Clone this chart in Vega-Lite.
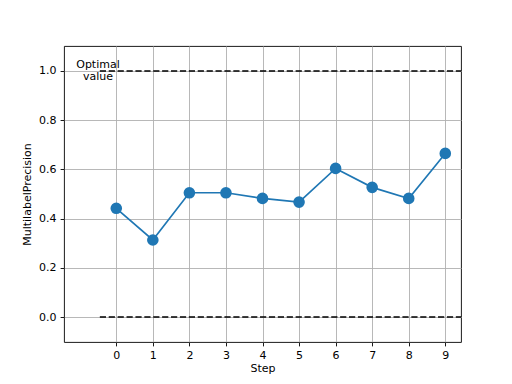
{
  "$schema": "https://vega.github.io/schema/vega-lite/v6.json",
  "width": 397,
  "height": 296,
  "autosize": {"type": "none"},
  "padding": {"left": 64, "top": 46, "right": 51, "bottom": 42},
  "background": "white",
  "config": {
    "font": "DejaVu Sans",
    "view": {"stroke": "black", "strokeWidth": 0.9},
    "axis": {
      "domain": false,
      "grid": true,
      "gridColor": "#b0b0b0",
      "gridWidth": 0.9,
      "gridOpacity": 1,
      "tickColor": "black",
      "tickSize": 3.9,
      "tickWidth": 0.9,
      "labelFont": "DejaVu Sans",
      "labelFontSize": 11,
      "labelColor": "black",
      "titleFont": "DejaVu Sans",
      "titleFontSize": 11,
      "titleFontWeight": "normal",
      "titleColor": "black",
      "labelPadding": 4
    }
  },
  "datasets": {
    "pts": [
      {"Step": 0, "MultilabelPrecision": 0.442},
      {"Step": 1, "MultilabelPrecision": 0.313},
      {"Step": 2, "MultilabelPrecision": 0.505},
      {"Step": 3, "MultilabelPrecision": 0.505},
      {"Step": 4, "MultilabelPrecision": 0.482},
      {"Step": 5, "MultilabelPrecision": 0.467},
      {"Step": 6, "MultilabelPrecision": 0.604},
      {"Step": 7, "MultilabelPrecision": 0.527},
      {"Step": 8, "MultilabelPrecision": 0.482},
      {"Step": 9, "MultilabelPrecision": 0.665}
    ],
    "refs": [
      {"x1": -0.45, "x2": 9.43, "y": 1.0},
      {"x1": -0.45, "x2": 9.43, "y": 0.0}
    ],
    "label": [
      {"x": -0.5, "y": 1.0, "text": ["Optimal", "value"]}
    ]
  },
  "layer": [
    {
      "data": {"name": "pts"},
      "mark": {"type": "line", "color": "#1f77b4", "strokeWidth": 1.67, "clip": true},
      "encoding": {
        "x": {
          "field": "Step", "type": "quantitative",
          "scale": {"domain": [-1.43, 9.43], "nice": false, "zero": false},
          "axis": {"values": [0,1,2,3,4,5,6,7,8,9], "title": "Step", "titlePadding": 2}
        },
        "y": {
          "field": "MultilabelPrecision", "type": "quantitative",
          "scale": {"domain": [-0.1016, 1.1016], "nice": false, "zero": false},
          "axis": {"values": [0, 0.2, 0.4, 0.6, 0.8, 1.0], "format": ".1f", "title": "MultilabelPrecision", "titlePadding": 6}
        }
      }
    },
    {
      "data": {"name": "pts"},
      "mark": {"type": "point", "filled": true, "color": "#1f77b4", "size": 135, "opacity": 1},
      "encoding": {
        "x": {"field": "Step", "type": "quantitative"},
        "y": {"field": "MultilabelPrecision", "type": "quantitative"}
      }
    },
    {
      "data": {"name": "refs"},
      "mark": {"type": "rule", "color": "black", "strokeWidth": 1.67, "strokeDash": [6.2, 2.7]},
      "encoding": {
        "x": {"field": "x1", "type": "quantitative"},
        "x2": {"field": "x2"},
        "y": {"field": "y", "type": "quantitative"}
      }
    },
    {
      "data": {"name": "label"},
      "mark": {"type": "text", "font": "DejaVu Sans", "fontSize": 11, "color": "black", "align": "center", "baseline": "middle", "lineHeight": 12, "dy": -6},
      "encoding": {
        "x": {"field": "x", "type": "quantitative"},
        "y": {"field": "y", "type": "quantitative"},
        "text": {"field": "text"}
      }
    }
  ]
}
